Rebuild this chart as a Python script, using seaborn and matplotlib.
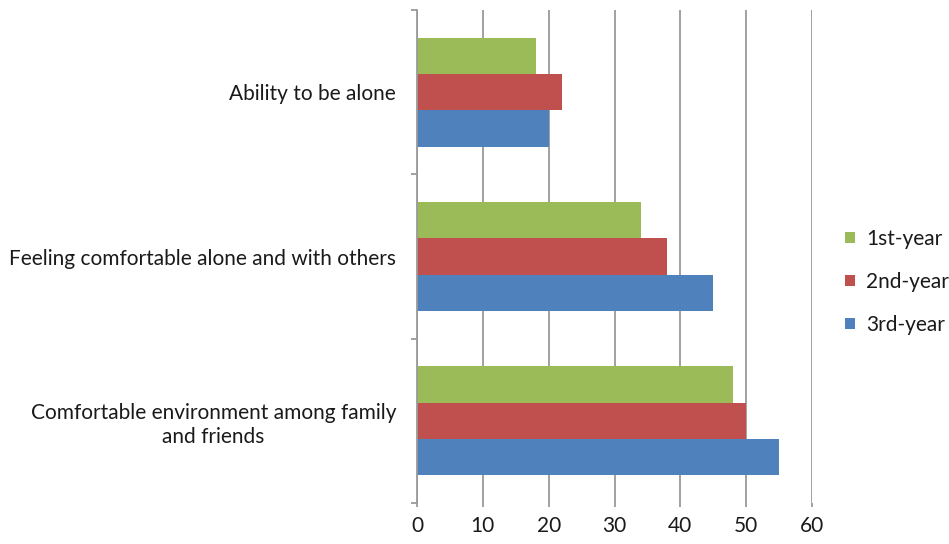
import pandas as pd
import numpy as np
import matplotlib
matplotlib.use("Agg")
import matplotlib.pyplot as plt
import seaborn as sns

# ---------------------------------------------
# Data
# ---------------------------------------------
categories = [
    "Ability to be alone",
    "Feeling comfortable alone and with others",
    "Comfortable environment among family\nand friends",
]
years = ["1st-year", "2nd-year", "3rd-year"]
first_year = [18, 34, 48]
second_year = [22, 38, 50]
third_year = [20, 45, 55]
x_ticks = [0, 10, 20, 30, 40, 50, 60]

df = pd.DataFrame({
    "category": categories * 3,
    "year": [years[0]] * 3 + [years[1]] * 3 + [years[2]] * 3,
    "value": first_year + second_year + third_year,
})

colors = ["#9BBB59", "#C0504D", "#4F81BD"]

# ---------------------------------------------
# Style
# ---------------------------------------------
sns.set_theme(style="white")
plt.rcParams["font.family"] = ["Lato", "DejaVu Sans"]
fs = 15

fig = plt.figure(figsize=(9.49, 5.44), dpi=100)
ax = fig.add_axes([417 / 949, 1 - 503 / 544, (812 - 417) / 949, (503 - 10) / 544])

sns.barplot(
    data=df, y="category", x="value", hue="year",
    order=categories, hue_order=years, palette=colors,
    orient="y", width=0.665, saturation=1, ax=ax,
    edgecolor="none", linewidth=0,
)

ax.set_xlim(0, 60)
ax.set_ylim(2.5, -0.5)
ax.set_xticks(x_ticks)
ax.set_xlabel("")
ax.set_ylabel("")

# gridlines
ax.grid(axis="x", color="#9a9a9a", linewidth=1.3)
ax.grid(axis="y", visible=False)
ax.set_axisbelow(True)

for side in ["top", "right", "bottom"]:
    ax.spines[side].set_visible(False)
ax.spines["left"].set_color("#9a9a9a")
ax.spines["left"].set_linewidth(1.3)

# y ticks: labels at centres, tick marks at category boundaries
ax.set_yticks([-0.5, 0.5, 1.5, 2.5], minor=True)
ax.tick_params(axis="y", which="minor", length=4.5, width=1.3, color="#9a9a9a", direction="out", left=True)
ax.tick_params(axis="y", which="major", length=0, pad=15, labelsize=fs, labelcolor="#1a1a1a")
for lbl in ax.get_yticklabels():
    lbl.set_multialignment("center")
    lbl.set_linespacing(1.25)

ax.tick_params(axis="x", which="major", length=3, width=1.3, color="#9a9a9a", direction="out",
               bottom=True, pad=6, labelsize=fs, labelcolor="#1a1a1a")

sns.move_legend(
    ax, "center left", bbox_to_anchor=(1.063, 0.448), frameon=False, title=None,
    fontsize=fs, handlelength=0.45, handleheight=0.45, handletextpad=0.55,
    labelspacing=1.1, borderaxespad=0,
)
for t in ax.get_legend().get_texts():
    t.set_color("#1a1a1a")

plt.savefig("out.png", dpi=100)
